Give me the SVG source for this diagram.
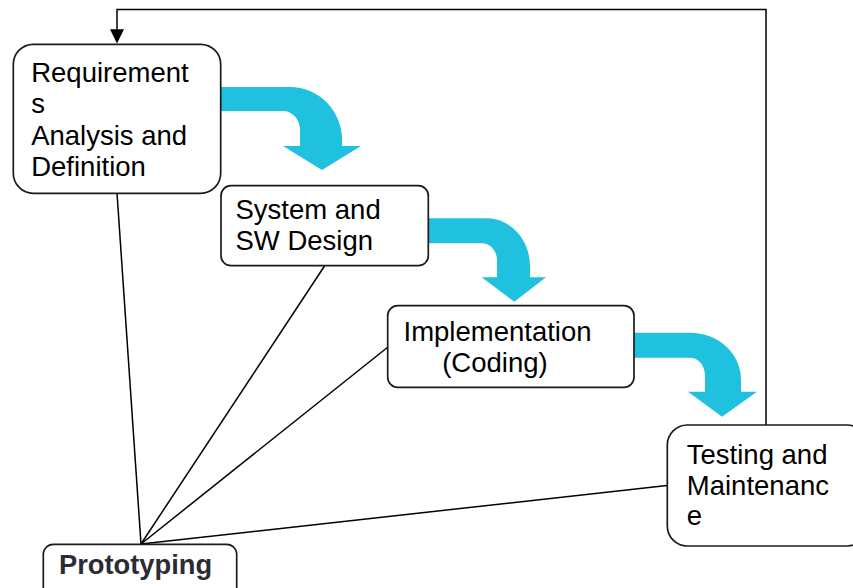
<svg xmlns="http://www.w3.org/2000/svg" width="853" height="588" viewBox="0 0 853 588">
<defs>
<style>
.box{fill:#fff;stroke:#1a1a1a;stroke-width:1.7}
.t{font-family:"Liberation Sans",Arial,sans-serif;font-size:27.5px;fill:#000}
.b{font-weight:bold;fill:#2b2b38;font-size:27.3px}
.ln{stroke:#000;stroke-width:1.5;fill:none}
.flow{fill:#20c1de}
</style>
</defs>
<rect width="853" height="588" fill="#fff"/>
<g id="connectors">
<line class="ln" x1="141" y1="544" x2="117" y2="193"/>
<line class="ln" x1="141" y1="544" x2="324.5" y2="266"/>
<line class="ln" x1="141" y1="544" x2="388" y2="347"/>
<line class="ln" x1="141" y1="544" x2="667" y2="485.5"/>
<path class="ln" d="M766 425 L766 9.5 L117 9.5 L117 29.5"/>
<path d="M110 29.3 L124 29.3 L117 43.5 Z" fill="#000"/>
<path class="flow" d="M220 87 L290 87 A52 53 0 0 1 342 140 L342 146 L361 146 L322 170 L283 146 L300 146 L300 130 A17 19 0 0 0 283 111 L220 111 Z"/>
<path class="flow" d="M428 218.3 L487 218.3 A43 48 0 0 1 530 266 L530 277.3 L546 277.3 L514.3 301.7 L481.7 277.3 L497 277.3 L497 260 A15 17 0 0 0 482 243.3 L428 243.3 Z"/>
<path class="flow" d="M634 332.7 L690 332.7 A51 47 0 0 1 741 380 L741 391.7 L757 391.7 L722 416.7 L688 391.7 L705 391.7 L705 376 A15 18 0 0 0 690 357.7 L634 357.7 Z"/>
</g>
<g id="requirements">
<rect class="box" x="13.3" y="44.3" width="207.4" height="149" rx="20"/>
<text class="t" x="31.2" y="82.3">Requirement</text>
<text class="t" x="31.2" y="113.4">s</text>
<text class="t" x="31.2" y="144.5">Analysis and</text>
<text class="t" x="31.2" y="175.6">Definition</text>
</g>
<g id="system">
<rect class="box" x="221" y="185.7" width="207.3" height="80" rx="10"/>
<text class="t" x="235.5" y="219.3">System and</text>
<text class="t" x="235.5" y="250">SW Design</text>
</g>
<g id="implementation">
<rect class="box" x="387.7" y="305.7" width="246.3" height="81.6" rx="10"/>
<text class="t" x="403.5" y="341">Implementation</text>
<text class="t" x="442.2" y="371.5">(Coding)</text>
</g>
<g id="testing">
<rect class="box" x="667.3" y="425" width="200" height="121" rx="20"/>
<text class="t" x="686.8" y="464">Testing and</text>
<text class="t" x="686.8" y="494.5">Maintenanc</text>
<text class="t" x="686.8" y="525">e</text>
</g>
<g id="prototyping">
<rect class="box" x="43.3" y="544.3" width="193.4" height="60" rx="10"/>
<text class="t b" x="59" y="574.3">Prototyping</text>
</g>
</svg>
